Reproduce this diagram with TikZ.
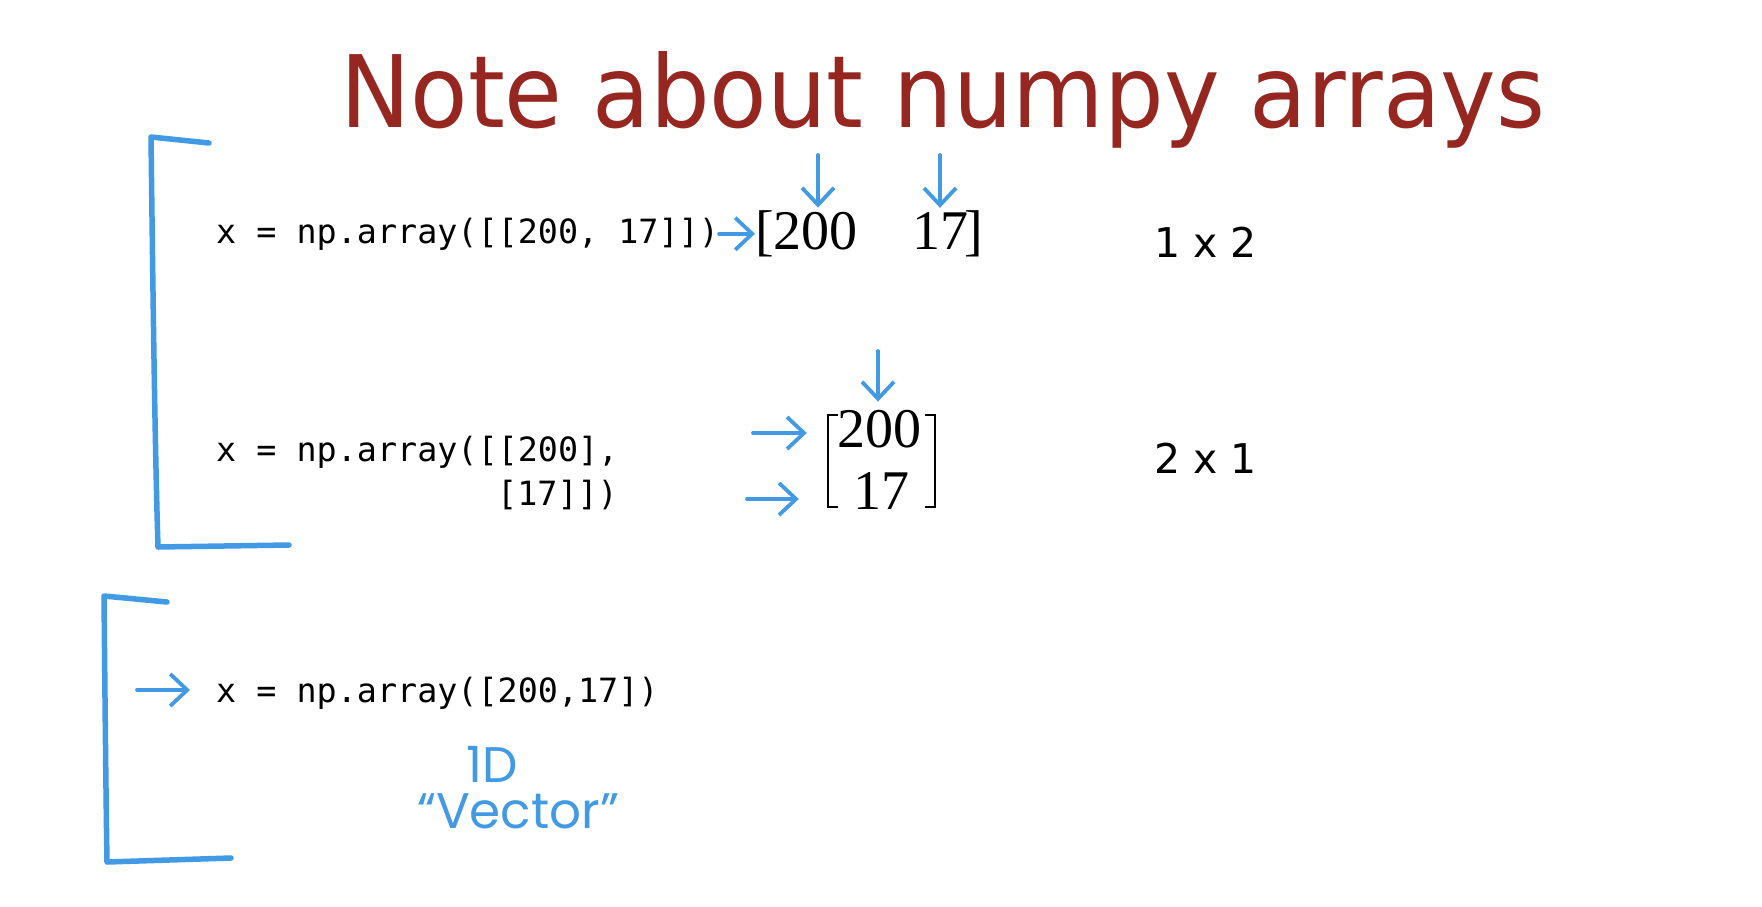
\documentclass[tikz,border=0pt]{standalone}
\usepackage{fontspec}
\newfontfamily\titlefont{DejaVu Sans}[FakeStretch=0.94]
\newfontfamily\dimfont{DejaVu Sans}
\newfontfamily\codefont{DejaVu Sans Mono}
\newfontfamily\matfont{Liberation Serif}
\newfontfamily\handfont{Poppins}
\usetikzlibrary{arrows.meta}
\definecolor{pen}{RGB}{66,153,228}
\definecolor{titlered}{RGB}{150,38,32}
\begin{document}
\begin{tikzpicture}[x=1pt,y=-1pt,
  bracketpen/.style={draw=pen, line width=5.5pt, line cap=round, line join=round},
  penarrow/.style={draw=pen, line width=3.8pt, line cap=round,
    -{Straight Barb[length=17pt,width=32pt]}},
  code/.style={inner sep=0pt, anchor=base west, font=\codefont\fontsize{33.4}{40}\selectfont},
  dimtext/.style={inner sep=0pt, anchor=base west, font=\dimfont\fontsize{41}{48}\selectfont},
  mat/.style={inner sep=0pt, font=\matfont\fontsize{56}{60}\selectfont},
  hand/.style={inner sep=0pt, text=pen, font=\handfont\fontsize{50}{56}\selectfont},
  matbracket/.style={draw=black, line width=2pt}]
\useasboundingbox (0,0) rectangle (1762,906);
\fill[white] (0,0) rectangle (1762,906);

% title
\node[inner sep=0pt, anchor=base west, text=titlered,
  font=\titlefont\fontsize{100}{110}\selectfont] (title) at (340,127) {Note about numpy arrays};

% hand-drawn brackets grouping the examples
\draw[bracketpen] (209,143) -- (151,137) .. controls (153,300) and (155,450) .. (158,547) -- (289,545);
\draw[bracketpen] (167,602) -- (104,596) .. controls (105,700) and (106,800) .. (107,862) -- (231,858);

% row vector example
\node[code] (c1) at (216,243) {x = np.array([[200, 17]])};
\node[mat, anchor=base west] (r1l) at (755,249) {[};
\node[mat, anchor=base west] (r1a) at (773,249) {200};
\node[mat, anchor=base west] (r1b) at (912,249) {17};
\node[mat, anchor=base east] (r1r) at (983,249) {]};
\node[dimtext] (d1) at (1154,257) {1 x 2};

% column vector example
\node[code] (c2) at (216,461) {x = np.array([[200],};
\node[code] (c3) at (497,505) {[17]])};
\node[mat, anchor=base] (v1) at (879,447) {200};
\node[mat, anchor=base] (v2) at (881,509) {17};
\draw[matbracket] (838,415) -- (828,415) -- (828,507) -- (838,507);
\draw[matbracket] (925,415) -- (935,415) -- (935,507) -- (925,507);
\node[dimtext] (d2) at (1154,473) {2 x 1};

% 1D array example
\node[code] (c4) at (216,702) {x = np.array([200,17])};
\node[hand] (h1) at (492,764) {1D};
\node[hand] (h2) at (518,811) {“Vector”};

% pen arrows
\coordinate (a1) at (818,155);
\coordinate (a2) at (940,155);
\coordinate (a3) at (878,351);
\coordinate (a5) at (753,433);
\coordinate (a6) at (747,499);
\coordinate (a7) at (137,690);
\draw[penarrow] (c1.east) -- (c1.east -| r1l.west);
\draw[penarrow, shorten >=4pt] (a1) -- (a1 |- r1a.north);
\draw[penarrow, shorten >=4pt] (a2) -- (a2 |- r1b.north);
\draw[penarrow, shorten >=8pt] (a3) -- (a3 |- v1.north);
\draw[penarrow, shorten >=30pt] (a5) -- (a5 -| v1.west);
\draw[penarrow, shorten >=54pt] (a6) -- (a6 -| v2.west);
\draw[penarrow, shorten >=26pt] (a7) -- (a7 -| c4.west);
\end{tikzpicture}
\end{document}
